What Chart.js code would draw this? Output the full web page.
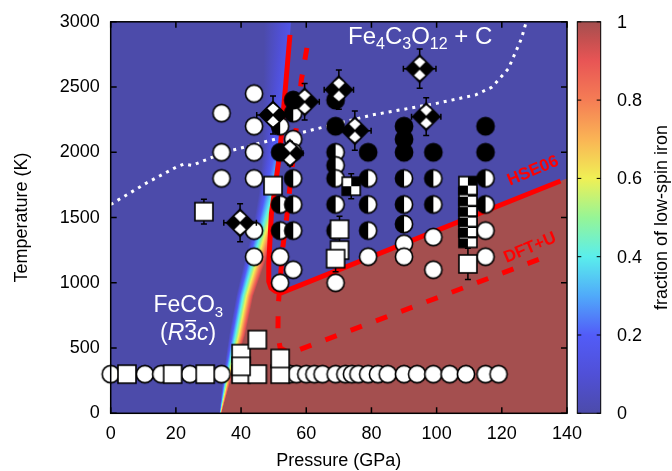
<!DOCTYPE html>
<html>
<head>
<meta charset="utf-8">
<script src="https://cdn.jsdelivr.net/npm/chart.js@4.4.1/dist/chart.umd.min.js"></script>
<style>
  html, body { margin: 0; padding: 0; background: #fff; }
  canvas { display: block; }
</style>
</head>
<body>
<canvas id="phaseChart" width="672" height="471"></canvas>
<script>
// ---- data (P in GPa, T in K) ----
const pressureTicks = [0, 20, 40, 60, 80, 100, 120, 140];
const temperatureTicks = [0, 500, 1000, 1500, 2000, 2500, 3000];
const fractionTicks = [0, 0.2, 0.4, 0.6, 0.8, 1];

// open (white) circles
const openP = [34, 34, 34, 44, 44, 44, 44, 44, 44, 52, 56, 52, 56, 69, 79, 90, 90, 99, 99, 115, 115,
  0, 10.5, 15.5, 24.3, 34, 55, 57, 60, 62.5, 65, 69, 72, 74, 76, 79, 82, 85, 90, 94, 99, 104, 109, 115, 119];
const openT = [2300, 2000, 1800, 2450, 2200, 2000, 1800, 1400, 1200, 1200, 1100, 1000, 2100, 1000, 1200, 1300, 1200, 1350, 1100, 1400, 1200,
  300, 300, 300, 300, 300, 300, 300, 300, 300, 300, 300, 300, 300, 300, 300, 300, 300, 300, 300, 300, 300, 300, 300, 300];

// half filled circles (mixed spin)
const halfP = [52, 52, 52, 56, 56, 56, 56, 56, 69, 69, 69, 69, 69, 79, 79, 79, 90, 90, 90, 99, 99, 115, 115];
const halfT = [2200, 1600, 1400, 2300, 2000, 1800, 1600, 1400, 2000, 1900, 1800, 1600, 1400, 1800, 1600, 1400, 1800, 1600, 1450, 1800, 1600, 1800, 1600];

// filled circles
const fullP = [52, 56, 69, 69, 79, 90, 90, 90, 99, 115, 115];
const fullT = [2000, 2400, 2400, 2200, 2000, 2200, 2100, 2000, 2000, 2200, 2000];

// open squares
const squareP = [28.6, 49.8, 70.2, 70.2, 69, 109.6, 5, 19, 29, 40, 45, 52, 40, 40, 45, 52];
const squareT = [1545, 1745, 1410, 1250, 1185, 1145, 300, 300, 300, 300, 300, 300, 457, 360, 565, 420];
const squareErrT = [95, 0, 100, 0, 100, 120, 0, 0, 0, 0, 0, 0, 0, 0, 0, 0];

// checkered squares
const checkP = [73.8, 109.6, 109.6, 109.6, 109.6, 109.6, 109.6];
const checkT = [1740, 1340, 1420, 1500, 1580, 1660, 1745];
const checkErrT = [95, 60, 0, 0, 0, 0, 60];

// checkered diamonds
const diaP = [39.7, 49.8, 59.5, 55, 70, 74.9, 94.8, 96.8];
const diaT = [1460, 2286, 2387, 1993, 2480, 2166, 2641, 2273];
const diaErrP = [5, 5, 4.5, 4, 4.5, 5, 5, 4.5];
const diaErrT = [145, 145, 140, 90, 150, 150, 150, 145];

// boundaries
const hseP = [55.35, 55, 51.9, 49.3, 48.5, 48.5, 49.2, 50.5, 52.5, 138];
const hseT = [3000, 2900, 2000, 1530, 1150, 1010, 960, 935, 925, 1780];
const dftP = [60.2, 58.5, 54, 52.8, 51.4, 51.3, 52, 55, 133];
const dftT = [2800, 2555, 1500, 1270, 825, 600, 500, 460, 1195];
const dotP = [0, 11, 20, 22.5, 25, 28, 35, 48, 60, 80, 100, 112, 117, 122, 126, 127.5];
const dotT = [1600, 1765, 1885, 1910, 1900, 1930, 2000, 2085, 2160, 2285, 2375, 2440, 2500, 2640, 2870, 3000];

// spin crossover band: P where low-spin fraction starts / completes
const bandT = [0, 250, 600, 900, 1200, 1400, 1700, 2000, 2500, 3000];
const bandLo = [33.3, 34.3, 36.3, 38.5, 41.3, 43.5, 45.5, 46.5, 46.8, 47];
const bandHi = [34.0, 36.8, 41.3, 43.8, 48.0, 50.5, 56, 65, 85, 105];

// palette
const cmapStops = [0, 0.1, 0.2, 0.3, 0.4, 0.5, 0.6, 0.7, 0.8, 0.9, 0.95, 1];
const cmapColors = ['rgb(76,75,170)', 'rgb(80,80,215)', 'rgb(82,92,248)', 'rgb(80,170,250)', 'rgb(90,238,236)',
  'rgb(150,245,150)', 'rgb(240,240,85)', 'rgb(250,180,85)', 'rgb(245,125,85)', 'rgb(232,85,85)', 'rgb(200,80,80)', 'rgb(164,79,79)'];

const FONT = '"Liberation Sans", Arial, Helvetica, sans-serif';
Chart.defaults.font.family = FONT;

const pts = (xs, ys) => xs.map((v, i) => ({x: v, y: ys[i]}));

function interp(v, xs, ys) {
  if (v <= xs[0]) return ys[0];
  for (let i = 1; i < xs.length; i++) {
    if (v <= xs[i]) return ys[i-1] + (ys[i] - ys[i-1]) * (v - xs[i-1]) / (xs[i] - xs[i-1]);
  }
  return ys[ys.length - 1];
}

// marker images
function marker(size, fn) {
  const c = document.createElement('canvas');
  c.width = c.height = size;
  const g = c.getContext('2d');
  g.lineWidth = 1.6;
  g.strokeStyle = '#000';
  fn(g, size / 2);
  return c;
}
const R = 8.6;
const openMark = marker(22, (g, c) => {
  g.beginPath(); g.arc(c, c, R, 0, Math.PI * 2); g.fillStyle = '#fff'; g.fill(); g.stroke();
});
const fullMark = marker(22, (g, c) => {
  g.beginPath(); g.arc(c, c, R, 0, Math.PI * 2); g.fillStyle = '#000'; g.fill(); g.stroke();
});
const halfMark = marker(22, (g, c) => {
  g.beginPath(); g.arc(c, c, R, 0, Math.PI * 2); g.fillStyle = '#fff'; g.fill();
  g.beginPath(); g.arc(c, c, R, Math.PI / 2, Math.PI * 1.5); g.closePath(); g.fillStyle = '#000'; g.fill();
  g.beginPath(); g.arc(c, c, R, 0, Math.PI * 2); g.stroke();
});
const squareMark = marker(22, (g, c) => {
  g.fillStyle = '#fff'; g.fillRect(c - 9, c - 9, 18, 18); g.strokeRect(c - 9, c - 9, 18, 18);
});
const checkMark = marker(22, (g, c) => {
  g.fillStyle = '#fff'; g.fillRect(c - 9, c - 9, 18, 18);
  g.fillStyle = '#000'; g.fillRect(c, c - 9, 9, 9); g.fillRect(c - 9, c, 9, 9);
  g.strokeRect(c - 9, c - 9, 18, 18);
});
const diaMark = marker(32, (g, c) => {
  const h = 13.5;
  g.beginPath(); g.moveTo(c, c - h); g.lineTo(c + h, c); g.lineTo(c, c + h); g.lineTo(c - h, c); g.closePath();
  g.fillStyle = '#000'; g.fill();
  g.fillStyle = '#fff';
  g.beginPath(); g.moveTo(c, c - h + 2); g.lineTo(c + h / 2 - 1, c - h / 2); g.lineTo(c, c - 1); g.lineTo(c - h / 2 + 1, c - h / 2); g.closePath(); g.fill();
  g.beginPath(); g.moveTo(c, c + h - 2); g.lineTo(c + h / 2 - 1, c + h / 2); g.lineTo(c, c + 1); g.lineTo(c - h / 2 + 1, c + h / 2); g.closePath(); g.fill();
  g.beginPath(); g.moveTo(c, c - h); g.lineTo(c + h, c); g.lineTo(c, c + h); g.lineTo(c - h, c); g.closePath(); g.stroke();
});

function colorGradient(g) {
  cmapStops.forEach((s, i) => g.addColorStop(s, cmapColors[i]));
  return g;
}

// background map + error bars + frame + labels
const decor = {
  id: 'decor',
  beforeDatasetsDraw(chart) {
    const {ctx, chartArea: a, scales: {x, y}} = chart;
    ctx.save();
    ctx.beginPath(); ctx.rect(a.left, a.top, a.right - a.left, a.bottom - a.top); ctx.clip();
    ctx.fillStyle = cmapColors[0];
    ctx.fillRect(a.left, a.top, a.right - a.left, a.bottom - a.top);
    // region left of / below the HSE06 boundary
    ctx.beginPath();
    ctx.moveTo(x.getPixelForValue(0), y.getPixelForValue(0));
    ctx.lineTo(x.getPixelForValue(0), y.getPixelForValue(3000));
    hseP.forEach((p, i) => ctx.lineTo(x.getPixelForValue(p), y.getPixelForValue(hseT[i])));
    ctx.lineTo(x.getPixelForValue(140), y.getPixelForValue(1800));
    ctx.lineTo(x.getPixelForValue(140), y.getPixelForValue(0));
    ctx.closePath();
    ctx.clip();
    for (let py = Math.floor(a.top); py < a.bottom; py++) {
      const T = y.getValueForPixel(py + 0.5);
      const x0 = x.getPixelForValue(interp(T, bandT, bandLo));
      const x1 = x.getPixelForValue(interp(T, bandT, bandHi));
      ctx.fillStyle = colorGradient(ctx.createLinearGradient(x0, 0, x1, 0));
      ctx.fillRect(a.left, py, a.right - a.left, 1);
    }
    ctx.restore();
  },
  beforeDatasetDraw(chart, args) {
    const ds = chart.data.datasets[args.index];
    if (!ds.errT && !ds.errP) return;
    const {ctx, scales: {x, y}} = chart;
    ctx.save();
    ctx.strokeStyle = '#000';
    ctx.lineWidth = 1.5;
    ds.data.forEach((d, i) => {
      const px = x.getPixelForValue(d.x), py = y.getPixelForValue(d.y);
      const et = ds.errT ? ds.errT[i] : 0, ep = ds.errP ? ds.errP[i] : 0;
      ctx.beginPath();
      if (et) {
        const y0 = y.getPixelForValue(d.y - et), y1 = y.getPixelForValue(d.y + et);
        ctx.moveTo(px, y0); ctx.lineTo(px, y1);
        ctx.moveTo(px - 3, y0); ctx.lineTo(px + 3, y0);
        ctx.moveTo(px - 3, y1); ctx.lineTo(px + 3, y1);
      }
      if (ep) {
        const x0 = x.getPixelForValue(d.x - ep), x1 = x.getPixelForValue(d.x + ep);
        ctx.moveTo(x0, py); ctx.lineTo(x1, py);
        ctx.moveTo(x0, py - 3); ctx.lineTo(x0, py + 3);
        ctx.moveTo(x1, py - 3); ctx.lineTo(x1, py + 3);
      }
      ctx.stroke();
    });
    ctx.restore();
  },
  afterDatasetsDraw(chart) {
    const {ctx, chartArea: a, scales: {x, y}} = chart;
    ctx.save();
    // frame with inward ticks
    ctx.strokeStyle = '#000';
    ctx.lineWidth = 1.5;
    ctx.strokeRect(a.left, a.top, a.right - a.left, a.bottom - a.top);
    ctx.beginPath();
    pressureTicks.forEach(p => {
      const px = x.getPixelForValue(p);
      ctx.moveTo(px, a.bottom); ctx.lineTo(px, a.bottom - 6);
      ctx.moveTo(px, a.top); ctx.lineTo(px, a.top + 6);
    });
    temperatureTicks.forEach(t => {
      const py = y.getPixelForValue(t);
      ctx.moveTo(a.left, py); ctx.lineTo(a.left + 6, py);
      ctx.moveTo(a.right, py); ctx.lineTo(a.right - 6, py);
    });
    ctx.stroke();

    // phase labels
    ctx.fillStyle = '#fff';
    ctx.textBaseline = 'alphabetic';
    ctx.textAlign = 'left';
    const rich = (x0, y0, parts, size, sub) => {
      parts.forEach(([t, isSub]) => {
        ctx.font = (isSub ? sub : size) + 'px ' + FONT;
        ctx.fillText(t, x0, y0 + (isSub ? 5 : 0));
        x0 += ctx.measureText(t).width;
      });
    };
    rich(348, 43.5, [['Fe'], ['4', 1], ['C'], ['3', 1], ['O'], ['12', 1], [' + C']], 24, 16);
    rich(153.5, 312, [['FeCO'], ['3', 1]], 23, 15);
    // (R-3c)
    let tx = 160, ty = 340;
    ctx.font = '23px ' + FONT;
    ctx.fillText('(', tx, ty); tx += ctx.measureText('(').width;
    ctx.font = 'italic 23px ' + FONT;
    ctx.fillText('R', tx, ty); tx += ctx.measureText('R').width;
    ctx.font = '23px ' + FONT;
    const w3 = ctx.measureText('3').width;
    ctx.fillText('3', tx, ty);
    ctx.fillRect(tx + 1, ty - 20, w3 - 2, 1.5);
    tx += w3;
    ctx.font = 'italic 23px ' + FONT;
    ctx.fillText('c', tx, ty); tx += ctx.measureText('c').width;
    ctx.font = '23px ' + FONT;
    ctx.fillText(')', tx, ty);

    // boundary names
    ctx.fillStyle = '#ff0000';
    ctx.font = 'bold 17px ' + FONT;
    ctx.textAlign = 'center';
    ctx.textBaseline = 'middle';
    [['HSE06', 533, 171], ['DFT+U', 530, 248]].forEach(([t, cx, cy]) => {
      ctx.save(); ctx.translate(cx, cy); ctx.rotate(-23 * Math.PI / 180); ctx.fillText(t, 0, 0); ctx.restore();
    });
    ctx.restore();
  },
  afterDraw(chart) {
    const {ctx, chartArea: a} = chart;
    ctx.save();
    // colour bar
    const cx0 = 577.3, cx1 = 600.7;
    ctx.fillStyle = colorGradient(ctx.createLinearGradient(0, a.bottom, 0, a.top));
    ctx.fillRect(cx0, a.top, cx1 - cx0, a.bottom - a.top);
    ctx.strokeStyle = '#000';
    ctx.lineWidth = 1;
    ctx.strokeRect(cx0, a.top, cx1 - cx0, a.bottom - a.top);
    ctx.fillStyle = '#000';
    ctx.font = '18px ' + FONT;
    ctx.textAlign = 'left';
    ctx.textBaseline = 'middle';
    ctx.beginPath();
    fractionTicks.forEach(f => {
      const py = a.bottom - f * (a.bottom - a.top);
      ctx.moveTo(cx0, py); ctx.lineTo(cx0 + 4, py);
      ctx.moveTo(cx1, py); ctx.lineTo(cx1 - 4, py);
      ctx.fillText(String(f), 617, py + 1);
    });
    ctx.stroke();

    // axis titles
    const midY = (a.top + a.bottom) / 2;
    ctx.textAlign = 'center';
    ctx.fillText('Pressure (GPa)', (a.left + a.right) / 2, 461);
    ctx.save(); ctx.translate(22.5, midY); ctx.rotate(-Math.PI / 2);
    ctx.fillText('Temperature (K)', 0, 0); ctx.restore();
    ctx.save(); ctx.translate(662, midY); ctx.rotate(-Math.PI / 2);
    ctx.fillText('fraction of low-spin iron', 0, 0); ctx.restore();
    ctx.restore();
  }
};

const markerSet = (data, img, order, extra) => Object.assign({
  data: data, pointStyle: img, pointRadius: 9, showLine: false, clip: false, order: order
}, extra || {});

new Chart(document.getElementById('phaseChart'), {
  type: 'scatter',
  data: {
    datasets: [
      {data: pts(dotP, dotT), showLine: true, pointRadius: 0, borderColor: '#fff', borderWidth: 3,
        borderDash: [3, 5], borderCapStyle: 'butt', order: 20},
      {data: pts(dftP, dftT), showLine: true, pointRadius: 0, borderColor: '#ff0000', borderWidth: 5,
        borderDash: [12, 15], borderCapStyle: 'butt', order: 19},
      {data: pts(hseP.slice(1), hseT.slice(1)), showLine: true, pointRadius: 0, borderColor: '#ff0000', borderWidth: 5,
        borderCapStyle: 'butt', order: 18},
      markerSet(pts(openP, openT), openMark, 10),
      markerSet(pts(halfP, halfT), halfMark, 9),
      markerSet(pts(fullP, fullT), fullMark, 8),
      markerSet(pts(squareP, squareT), squareMark, 5, {errT: squareErrT}),
      markerSet(pts(checkP, checkT), checkMark, 4, {errT: checkErrT}),
      markerSet(pts(diaP, diaT), diaMark, 1, {errT: diaErrT, errP: diaErrP})
    ]
  },
  options: {
    responsive: false,
    animation: false,
    events: [],
    layout: {padding: {top: 20, right: 105, left: 0, bottom: 0}},
    plugins: {legend: {display: false}, tooltip: {enabled: false}},
    scales: {
      x: {
        type: 'linear', min: 0, max: 140,
        grid: {display: false, drawTicks: false}, border: {display: false},
        ticks: {stepSize: 20, color: '#000', font: {size: 18}, padding: 10, maxRotation: 0,
          callback: v => String(v)},
        afterFit: s => { s.height = 57.7; }
      },
      y: {
        type: 'linear', min: 0, max: 3000,
        grid: {display: false, drawTicks: false}, border: {display: false},
        ticks: {stepSize: 500, color: '#000', font: {size: 18}, padding: 11,
          callback: v => String(v)},
        afterFit: s => { s.width = 110.7; }
      }
    }
  },
  plugins: [decor]
});
</script>
</body>
</html>
